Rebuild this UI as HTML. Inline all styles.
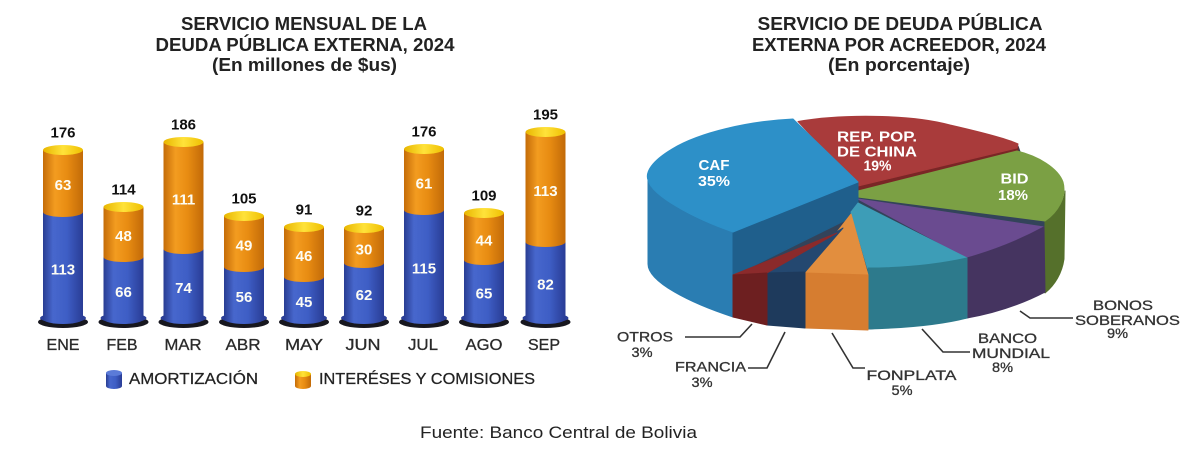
<!DOCTYPE html>
<html>
<head>
<meta charset="utf-8">
<style>
html,body{margin:0;padding:0;background:#fff;}
svg{display:block;}
text{font-family:"Liberation Sans",Arial,sans-serif;}
.tt{font-size:18px;font-weight:bold;fill:#222;}
.vl{font-size:15px;font-weight:bold;fill:#111;text-anchor:middle;}
.il{font-size:15px;font-weight:bold;fill:#fdfdf5;text-anchor:middle;}
.mo{font-size:16px;fill:#2a2a2a;text-anchor:middle;stroke:#2a2a2a;stroke-width:0.3;}
.lg{font-size:16px;fill:#222;stroke:#222;stroke-width:0.25;}
.pl{font-size:15px;font-weight:bold;fill:#fff;text-anchor:middle;}
.ol{font-size:14px;fill:#333;text-anchor:middle;stroke:#333;stroke-width:0.3;}
.pie path{stroke-width:1;stroke-linejoin:round;}
</style>
</head>
<body>
<svg width="1200" height="450" viewBox="0 0 1200 450" xmlns="http://www.w3.org/2000/svg">
<defs>
<linearGradient id="gb" x1="0" x2="1" y1="0" y2="0">
<stop offset="0" stop-color="#293d92"/><stop offset="0.25" stop-color="#4767cd"/><stop offset="0.6" stop-color="#3e5ec5"/><stop offset="1" stop-color="#293c95"/>
</linearGradient>
<linearGradient id="go" x1="0" x2="1" y1="0" y2="0">
<stop offset="0" stop-color="#c46c08"/><stop offset="0.3" stop-color="#f39c20"/><stop offset="0.6" stop-color="#e88c12"/><stop offset="1" stop-color="#c26a08"/>
</linearGradient>
<linearGradient id="gy" x1="0" x2="1" y1="0" y2="0">
<stop offset="0" stop-color="#e8b600"/><stop offset="0.5" stop-color="#ffe23a"/><stop offset="1" stop-color="#efbf00"/>
</linearGradient>
</defs>
<rect width="1200" height="450" fill="#fff"/>

<!-- Titles -->
<text class="tt" x="304" y="30" text-anchor="middle" textLength="246" lengthAdjust="spacingAndGlyphs">SERVICIO MENSUAL DE LA</text>
<text class="tt" x="305" y="51" text-anchor="middle" textLength="299" lengthAdjust="spacingAndGlyphs">DEUDA PÚBLICA EXTERNA, 2024</text>
<text class="tt" x="304.5" y="71" text-anchor="middle" textLength="185" lengthAdjust="spacingAndGlyphs">(En millones de $us)</text>

<text class="tt" x="900" y="30" text-anchor="middle" textLength="285" lengthAdjust="spacingAndGlyphs">SERVICIO DE DEUDA PÚBLICA</text>
<text class="tt" x="899" y="51" text-anchor="middle" textLength="294" lengthAdjust="spacingAndGlyphs">EXTERNA POR ACREEDOR, 2024</text>
<text class="tt" x="899" y="71" text-anchor="middle" textLength="142" lengthAdjust="spacingAndGlyphs">(En porcentaje)</text>

<!-- Bars -->
<!-- ENE -->
<ellipse cx="63" cy="322" rx="25" ry="6" fill="#17171f"/>
<ellipse cx="63" cy="318" rx="23" ry="5" fill="#2b3f98"/>
<path d="M43,212 L43,319 A20 5 0 0 0 83,319 L83,212 Z" fill="url(#gb)"/>
<path d="M43,150 L43,212 A20 5 0 0 0 83,212 L83,150 Z" fill="url(#go)"/>
<ellipse cx="63" cy="150" rx="20" ry="5" fill="url(#gy)"/>
<text class="vl" x="63" y="137.5">176</text>
<text class="il" x="63" y="190">63</text>
<text class="il" x="63" y="274.5">113</text>
<!-- FEB -->
<ellipse cx="123.5" cy="322" rx="25" ry="6" fill="#17171f"/>
<ellipse cx="123.5" cy="318" rx="23" ry="5" fill="#2b3f98"/>
<path d="M103.5,257 L103.5,319 A20 5 0 0 0 143.5,319 L143.5,257 Z" fill="url(#gb)"/>
<path d="M103.5,207 L103.5,257 A20 5 0 0 0 143.5,257 L143.5,207 Z" fill="url(#go)"/>
<ellipse cx="123.5" cy="207" rx="20" ry="5" fill="url(#gy)"/>
<text class="vl" x="123.5" y="194.5">114</text>
<text class="il" x="123.5" y="241">48</text>
<text class="il" x="123.5" y="297">66</text>
<!-- MAR -->
<ellipse cx="183.5" cy="322" rx="25" ry="6" fill="#17171f"/>
<ellipse cx="183.5" cy="318" rx="23" ry="5" fill="#2b3f98"/>
<path d="M163.5,249 L163.5,319 A20 5 0 0 0 203.5,319 L203.5,249 Z" fill="url(#gb)"/>
<path d="M163.5,142 L163.5,249 A20 5 0 0 0 203.5,249 L203.5,142 Z" fill="url(#go)"/>
<ellipse cx="183.5" cy="142" rx="20" ry="5" fill="url(#gy)"/>
<text class="vl" x="183.5" y="129.5">186</text>
<text class="il" x="183.5" y="204.5">111</text>
<text class="il" x="183.5" y="293">74</text>
<!-- ABR -->
<ellipse cx="244" cy="322" rx="25" ry="6" fill="#17171f"/>
<ellipse cx="244" cy="318" rx="23" ry="5" fill="#2b3f98"/>
<path d="M224,267 L224,319 A20 5 0 0 0 264,319 L264,267 Z" fill="url(#gb)"/>
<path d="M224,216 L224,267 A20 5 0 0 0 264,267 L264,216 Z" fill="url(#go)"/>
<ellipse cx="244" cy="216" rx="20" ry="5" fill="url(#gy)"/>
<text class="vl" x="244" y="203.5">105</text>
<text class="il" x="244" y="250.5">49</text>
<text class="il" x="244" y="302">56</text>
<!-- MAY -->
<ellipse cx="304" cy="322" rx="25" ry="6" fill="#17171f"/>
<ellipse cx="304" cy="318" rx="23" ry="5" fill="#2b3f98"/>
<path d="M284,277 L284,319 A20 5 0 0 0 324,319 L324,277 Z" fill="url(#gb)"/>
<path d="M284,227 L284,277 A20 5 0 0 0 324,277 L324,227 Z" fill="url(#go)"/>
<ellipse cx="304" cy="227" rx="20" ry="5" fill="url(#gy)"/>
<text class="vl" x="304" y="214.5">91</text>
<text class="il" x="304" y="261">46</text>
<text class="il" x="304" y="307">45</text>
<!-- JUN -->
<ellipse cx="364" cy="322" rx="25" ry="6" fill="#17171f"/>
<ellipse cx="364" cy="318" rx="23" ry="5" fill="#2b3f98"/>
<path d="M344,263 L344,319 A20 5 0 0 0 384,319 L384,263 Z" fill="url(#gb)"/>
<path d="M344,228 L344,263 A20 5 0 0 0 384,263 L384,228 Z" fill="url(#go)"/>
<ellipse cx="364" cy="228" rx="20" ry="5" fill="url(#gy)"/>
<text class="vl" x="364" y="215.5">92</text>
<text class="il" x="364" y="254.5">30</text>
<text class="il" x="364" y="300">62</text>
<!-- JUL -->
<ellipse cx="424" cy="322" rx="25" ry="6" fill="#17171f"/>
<ellipse cx="424" cy="318" rx="23" ry="5" fill="#2b3f98"/>
<path d="M404,210 L404,319 A20 5 0 0 0 444,319 L444,210 Z" fill="url(#gb)"/>
<path d="M404,149 L404,210 A20 5 0 0 0 444,210 L444,149 Z" fill="url(#go)"/>
<ellipse cx="424" cy="149" rx="20" ry="5" fill="url(#gy)"/>
<text class="vl" x="424" y="136.5">176</text>
<text class="il" x="424" y="188.5">61</text>
<text class="il" x="424" y="273.5">115</text>
<!-- AGO -->
<ellipse cx="484" cy="322" rx="25" ry="6" fill="#17171f"/>
<ellipse cx="484" cy="318" rx="23" ry="5" fill="#2b3f98"/>
<path d="M464,260 L464,319 A20 5 0 0 0 504,319 L504,260 Z" fill="url(#gb)"/>
<path d="M464,213 L464,260 A20 5 0 0 0 504,260 L504,213 Z" fill="url(#go)"/>
<ellipse cx="484" cy="213" rx="20" ry="5" fill="url(#gy)"/>
<text class="vl" x="484" y="200.5">109</text>
<text class="il" x="484" y="245.5">44</text>
<text class="il" x="484" y="298.5">65</text>
<!-- SEP -->
<ellipse cx="545.5" cy="322" rx="25" ry="6" fill="#17171f"/>
<ellipse cx="545.5" cy="318" rx="23" ry="5" fill="#2b3f98"/>
<path d="M525.5,242 L525.5,319 A20 5 0 0 0 565.5,319 L565.5,242 Z" fill="url(#gb)"/>
<path d="M525.5,132 L525.5,242 A20 5 0 0 0 565.5,242 L565.5,132 Z" fill="url(#go)"/>
<ellipse cx="545.5" cy="132" rx="20" ry="5" fill="url(#gy)"/>
<text class="vl" x="545.5" y="119.5">195</text>
<text class="il" x="545.5" y="196">113</text>
<text class="il" x="545.5" y="289.5">82</text>

<!-- Month labels -->
<text class="mo" x="63" y="350" textLength="33" lengthAdjust="spacingAndGlyphs">ENE</text>
<text class="mo" x="122" y="350" textLength="31" lengthAdjust="spacingAndGlyphs">FEB</text>
<text class="mo" x="183" y="350" textLength="37" lengthAdjust="spacingAndGlyphs">MAR</text>
<text class="mo" x="243" y="350" textLength="35" lengthAdjust="spacingAndGlyphs">ABR</text>
<text class="mo" x="304" y="350" textLength="38" lengthAdjust="spacingAndGlyphs">MAY</text>
<text class="mo" x="363" y="350" textLength="35" lengthAdjust="spacingAndGlyphs">JUN</text>
<text class="mo" x="423" y="350" textLength="30" lengthAdjust="spacingAndGlyphs">JUL</text>
<text class="mo" x="484" y="350" textLength="37" lengthAdjust="spacingAndGlyphs">AGO</text>
<text class="mo" x="544" y="350" textLength="32" lengthAdjust="spacingAndGlyphs">SEP</text>

<!-- Legend -->
<path d="M106,373 L106,386 A8 3 0 0 0 122,386 L122,373 Z" fill="url(#gb)"/>
<ellipse cx="114" cy="373" rx="8" ry="3" fill="#5b7bd8"/>
<text class="lg" x="129" y="384" textLength="129" lengthAdjust="spacingAndGlyphs">AMORTIZACIÓN</text>
<path d="M295,374 L295,386 A8 3 0 0 0 311,386 L311,374 Z" fill="url(#go)"/>
<ellipse cx="303" cy="374" rx="8" ry="3" fill="url(#gy)"/>
<text class="lg" x="319" y="384" textLength="216" lengthAdjust="spacingAndGlyphs">INTERÉSES Y COMISIONES</text>

<!-- Pie -->
<g class="pie">
<!-- backing to hide seams -->
<path d="M858,182 L1018,146 L1045,220 L1045,292 L967,318 L870,329 L733,317 L733,232 Z" fill="#33435a" stroke="#33435a"/>
<!-- China -->
<path d="M858,186 L1018,147 L1018,152 L858,193 Z" fill="#7a2626" stroke="#7a2626"/>
<path d="M798,121.5 C840,114 910,114 950,125 C985,133 1008,139 1018,144 L1017,148 L858,186 Z" fill="#a93b3b" stroke="#a93b3b"/>
<!-- BID -->
<path d="M1045,220 C1056,213 1064,203 1065,191 L1064,259 C1062,273 1055,285 1045,293 Z" fill="#55702b" stroke="#55702b"/>
<path d="M858,191 L1017,151 C1038,156 1058,168 1063,182 C1067,197 1058,212 1045,221 L858,197 Z" fill="#7ba044" stroke="#7ba044"/>
<!-- Bonos -->
<path d="M858,199 L1044,227 C1020,240 995,250 967,258 Z" fill="#6a4b90" stroke="#6a4b90"/>
<path d="M967,258 C995,250 1020,240 1044,227 L1045,292 C1020,305 995,313 967,318 Z" fill="#453460" stroke="#453460"/>
<!-- CAF -->
<path d="M648,179 C652,196 690,218 733,232 L733,317 C690,303 648,282 648,264 Z" fill="#2a7db2" stroke="#2a7db2"/>
<path d="M733,232 L858,182 L858,214 L733,276 Z" fill="#1f5f8c" stroke="#1f5f8c"/>
<path d="M858,182 L793,119 C750,121 700,132 672,149 C652,161 645,172 648,180 C652,196 695,219 733,232 Z" fill="#2d90c8" stroke="#2d90c8"/>
<!-- Banco Mundial -->
<path d="M858,203 L967,258 C940,264 905,268 868,270 L851,212 Z" fill="#3d9db7" stroke="#3d9db7"/>
<path d="M868,268 C905,268 940,264 967,258 L967,318 C940,325 905,328 868,329 Z" fill="#2d7a8c" stroke="#2d7a8c"/>
<!-- Fonplata -->
<path d="M851,214 L868,275 L805,273 Z" fill="#e28e3e" stroke="#e28e3e"/>
<path d="M805,273 L868,275 L868,330 L805,328 Z" fill="#d67d30" stroke="#d67d30"/>
<!-- Francia -->
<path d="M843,228 L805,272 L767,273 Z" fill="#244870" stroke="#244870"/>
<path d="M767,273 L805,272 L805,328 L767,325 Z" fill="#1e3a5c" stroke="#1e3a5c"/>
<!-- Otros -->
<path d="M837,233 L767,273 L733,275 Z" fill="#8b2a2b" stroke="#8b2a2b"/>
<path d="M733,275 L767,273 L767,325 L733,317 Z" fill="#6d1f20" stroke="#6d1f20"/>
</g>

<!-- Pie inner labels -->
<text class="pl" x="714" y="170" textLength="31" lengthAdjust="spacingAndGlyphs">CAF</text>
<text class="pl" x="714" y="186" textLength="32" lengthAdjust="spacingAndGlyphs">35%</text>
<text class="pl" x="877" y="141.5" textLength="80" lengthAdjust="spacingAndGlyphs">REP. POP.</text>
<text class="pl" x="877" y="156.5" textLength="80" lengthAdjust="spacingAndGlyphs">DE CHINA</text>
<text class="pl" x="877.5" y="170.5" textLength="28" lengthAdjust="spacingAndGlyphs">19%</text>
<text class="pl" x="1014.5" y="183.5" textLength="28" lengthAdjust="spacingAndGlyphs" fill="#f4f6e8">BID</text>
<text class="pl" x="1013" y="200" textLength="30" lengthAdjust="spacingAndGlyphs" fill="#f4f6e8">18%</text>

<!-- Leader lines -->
<g fill="none" stroke="#333" stroke-width="1.6">
<path d="M685,337 L740,337 L752,324"/>
<path d="M748,368 L767,368 L785,332"/>
<path d="M832,333 L853,368 L865,368"/>
<path d="M922,329 L943,352 L970,352"/>
<path d="M1020,311 L1030,318 L1073,318"/>
</g>

<!-- Outer labels -->
<text class="ol" x="645" y="341.5" textLength="56" lengthAdjust="spacingAndGlyphs">OTROS</text>
<text class="ol" x="642" y="357" textLength="21" lengthAdjust="spacingAndGlyphs">3%</text>
<text class="ol" x="710.5" y="371.5" textLength="71" lengthAdjust="spacingAndGlyphs">FRANCIA</text>
<text class="ol" x="702" y="387" textLength="21" lengthAdjust="spacingAndGlyphs">3%</text>
<text class="ol" x="911.5" y="380" textLength="90" lengthAdjust="spacingAndGlyphs">FONPLATA</text>
<text class="ol" x="902" y="395" textLength="21" lengthAdjust="spacingAndGlyphs">5%</text>
<text class="ol" x="1007.5" y="343" textLength="59" lengthAdjust="spacingAndGlyphs">BANCO</text>
<text class="ol" x="1011" y="358" textLength="78" lengthAdjust="spacingAndGlyphs">MUNDIAL</text>
<text class="ol" x="1002.5" y="372" textLength="21" lengthAdjust="spacingAndGlyphs">8%</text>
<text class="ol" x="1123" y="310" textLength="60" lengthAdjust="spacingAndGlyphs">BONOS</text>
<text class="ol" x="1127.5" y="325" textLength="105" lengthAdjust="spacingAndGlyphs">SOBERANOS</text>
<text class="ol" x="1117.5" y="338" textLength="21" lengthAdjust="spacingAndGlyphs">9%</text>

<!-- Footer -->
<text x="420" y="438" font-size="17" fill="#222" textLength="277" lengthAdjust="spacingAndGlyphs">Fuente: Banco Central de Bolivia</text>
</svg>
</body>
</html>
